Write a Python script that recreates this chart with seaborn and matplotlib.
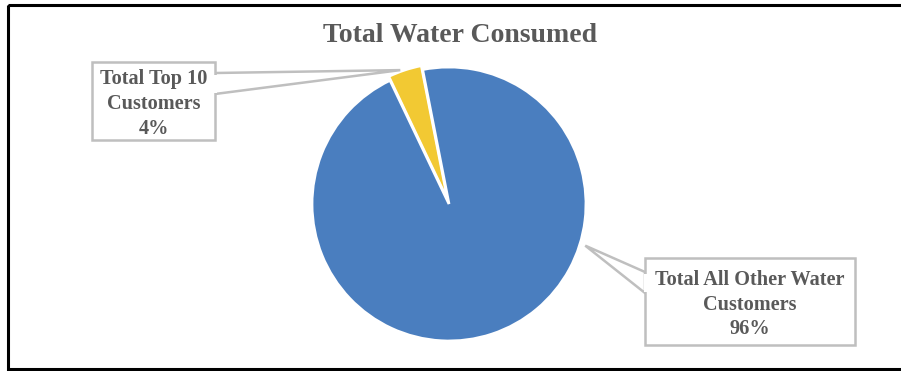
import numpy as np
import matplotlib
matplotlib.use("Agg")
import matplotlib.pyplot as plt
from matplotlib.patches import Rectangle, Polygon
import seaborn as sns

# Share of total water consumed
categories = ["Total Top 10\nCustomers", "Total All Other Water\nCustomers"]
shares = [4, 96]
pct_labels = ["4%", "96%"]
colors = ["#F2C933", "#4A7EBF"]
title = "Total Water Consumed"

sns.set_theme(style="white")
plt.rcParams["font.family"] = ["Liberation Serif", "DejaVu Serif"]

W, H = 901, 371
fig = plt.figure(figsize=(W / 100, H / 100), dpi=100)
fig.patch.set_facecolor("white")

# pie placed by pixel box: centre (449, 204), radius 137
cx, cy, r = 449, 204, 137
pie_ax = fig.add_axes([(cx - r) / W, (H - cy - r) / H, 2 * r / W, 2 * r / H])
wedges, _ = pie_ax.pie(
    shares, colors=colors, startangle=115.5, counterclock=False,
    explode=[0.03, 0], radius=1.0,
    wedgeprops=dict(edgecolor="white", linewidth=2.0),
)
pie_ax.set_xlim(-1, 1)
pie_ax.set_ylim(-1, 1)
pie_ax.set_aspect("equal")
pie_ax.axis("off")

# overlay in pixel coordinates (y downward) for frame, title and callouts
ov = fig.add_axes([0, 0, 1, 1], zorder=5)
ov.set_xlim(0, W)
ov.set_ylim(H, 0)
ov.axis("off")
ov.patch.set_alpha(0)


def pie_point(angle_deg, rad):
    a = np.deg2rad(angle_deg)
    x, y = pie_ax.transData.transform((rad * np.cos(a), rad * np.sin(a)))
    return x, H - y


# outer chart frame
ov.add_patch(Rectangle((8, 5), W + 10, 364, fill=False, edgecolor="black", lw=2.2))

ov.text(460, 36, title, ha="center", va="center", fontsize=20,
        fontweight="bold", color="#595959")

edge = "#BFBFBF"
txt_color = "#595959"


def callout(box, base, tip, lines):
    x0, y0, x1, y1 = box
    ov.add_patch(Polygon([base[0], tip, base[1]], closed=True, facecolor="white",
                         edgecolor=edge, lw=1.8, zorder=6))
    ov.add_patch(Rectangle((x0, y0), x1 - x0, y1 - y0, facecolor="white",
                           edgecolor=edge, lw=1.8, zorder=7))
    # open the box side where the pointer joins it
    bx = x0 if abs(base[0][0] - x0) < 1 else x1
    ov.add_patch(Rectangle((bx - 1.5, base[0][1] + 1.5), 3, base[1][1] - base[0][1] - 3,
                           facecolor="white", edgecolor="none", zorder=8))
    ov.text((x0 + x1) / 2, (y0 + y1) / 2 + 3, lines, ha="center", va="center",
            fontsize=14.6, fontweight="bold", color=txt_color, linespacing=1.32,
            zorder=9)


# top-ten callout, pointing at the yellow slice
tip1 = pie_point(110, 1.04)
callout((92, 62, 215, 140), [(215, 73), (215, 94)], tip1,
        f"{categories[0]}\n{pct_labels[0]}")

# remaining customers callout, pointing at the blue slice
tip2 = pie_point(-17, 1.04)
callout((645, 258, 855, 345), [(645, 272), (645, 293)], tip2,
        f"{categories[1]}\n{pct_labels[1]}")

fig.savefig("out.png", dpi=100, facecolor="white")
